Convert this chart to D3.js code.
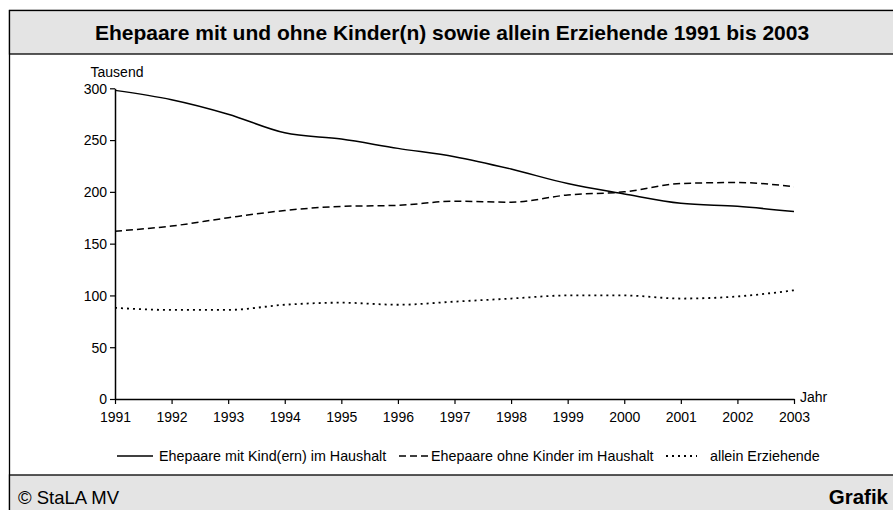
<!DOCTYPE html>
<html>
<head>
<meta charset="utf-8">
<script src="https://cdn.jsdelivr.net/npm/d3@7"></script>
<style>
  body { margin: 0; background: #fff; }
  svg { display: block; font-family: "Liberation Sans", Arial, sans-serif; }
</style>
</head>
<body>
<svg id="chart"></svg>
<script>
const years = [1991, 1992, 1993, 1994, 1995, 1996, 1997, 1998, 1999, 2000, 2001, 2002, 2003]
const mitKind = [298, 289, 275, 257, 251, 242, 234, 222, 208, 198, 189, 186, 181]
const ohneKind = [162, 167, 175, 182, 186, 187, 191, 190, 197, 200, 208, 209, 205]
const alleinErz = [88, 86, 86, 91, 93, 91, 94, 97, 100, 100, 97, 99, 105]
const yTicks = [0, 50, 100, 150, 200, 250, 300]
const seriesNames = [
  "Ehepaare mit Kind(ern) im Haushalt",
  "Ehepaare ohne Kinder im Haushalt",
  "allein Erziehende",
]

const W = 893
const H = 510
const svg = d3.select("#chart").attr("width", W).attr("height", H)

// frame, title band and footer band
svg.append("rect")
  .attr("x", 9.5).attr("y", 10.5)
  .attr("width", W).attr("height", H)
  .attr("fill", "#fff").attr("stroke", "#000").attr("stroke-width", 1.3)

svg.append("rect")
  .attr("x", 9.5).attr("y", 10.5)
  .attr("width", W).attr("height", 43.5)
  .attr("fill", "#e4e4e4").attr("stroke", "#000").attr("stroke-width", 1.3)

svg.append("rect")
  .attr("x", 9.5).attr("y", 475)
  .attr("width", W).attr("height", 40)
  .attr("fill", "#e4e4e4").attr("stroke", "#000").attr("stroke-width", 1.3)

svg.append("text")
  .attr("x", 452).attr("y", 39.5)
  .attr("text-anchor", "middle")
  .attr("font-size", 21).attr("font-weight", "bold")
  .text("Ehepaare mit und ohne Kinder(n) sowie allein Erziehende 1991 bis 2003")

svg.append("text")
  .attr("x", 18).attr("y", 503.5)
  .attr("font-size", 18.5)
  .text("© StaLA MV")

svg.append("text")
  .attr("x", 888).attr("y", 503.5)
  .attr("text-anchor", "end")
  .attr("font-size", 20.5).attr("font-weight", "bold")
  .text("Grafik")

/*
  Scales and axes
*/
const x = d3.scaleLinear().domain([1991, 2003]).range([115, 794])
const y = d3.scaleLinear().domain([0, 300]).range([399, 88.3])

const xAxis = svg.append("g")
  .attr("transform", "translate(0," + y(0) + ")")
  .call(d3.axisBottom(x).tickValues(years).tickFormat(d3.format("d")).tickSize(5).tickSizeOuter(0))
xAxis.selectAll("text").attr("font-size", 14).attr("dy", "1.1em").attr("fill", "#000")

const yAxis = svg.append("g")
  .attr("transform", "translate(" + x(1991) + ",0)")
  .call(d3.axisLeft(y).tickValues(yTicks).tickSize(5).tickSizeOuter(0))
yAxis.selectAll("text").attr("font-size", 14).attr("dy", "0.35em").attr("fill", "#000")

svg.selectAll(".domain").attr("stroke", "#000").attr("stroke-width", 1.5)
svg.selectAll(".tick line").attr("stroke", "#000").attr("stroke-width", 1.2)
svg.selectAll(".tick text").attr("font-family", "Liberation Sans, Arial, sans-serif")

svg.append("text")
  .attr("x", 117).attr("y", 77)
  .attr("text-anchor", "middle")
  .attr("font-size", 14)
  .text("Tausend")

svg.append("text")
  .attr("x", 800).attr("y", 402)
  .attr("font-size", 14)
  .text("Jahr")

/*
  Lines
*/
const styles = [
  { dash: null, width: 1.5 },
  { dash: "7,4", width: 1.5 },
  { dash: "2,4", width: 1.8 },
]
const allSeries = [mitKind, ohneKind, alleinErz]

const line = d3.line()
  .x((d, i) => x(years[i]))
  .y((d) => y(d))
  .curve(d3.curveMonotoneX)

svg.append("g")
  .selectAll("path")
  .data(allSeries)
  .enter()
  .append("path")
  .attr("d", line)
  .attr("fill", "none")
  .attr("stroke", "#000")
  .attr("stroke-width", (d, i) => styles[i].width)
  .attr("stroke-dasharray", (d, i) => styles[i].dash)

/*
  Legend
*/
const legendItems = [
  { x1: 117, x2: 153, tx: 159 },
  { x1: 399, x2: 428, tx: 431 },
  { x1: 666, x2: 697, tx: 710 },
]
const legend = svg.append("g").attr("transform", "translate(0,456)")
legendItems.forEach((item, i) => {
  legend.append("line")
    .attr("x1", item.x1).attr("x2", item.x2)
    .attr("y1", 0).attr("y2", 0)
    .attr("stroke", "#000")
    .attr("stroke-width", styles[i].width)
    .attr("stroke-dasharray", styles[i].dash)
  legend.append("text")
    .attr("x", item.tx).attr("y", 5)
    .attr("font-size", 14.3)
    .text(seriesNames[i])
})
</script>
</body>
</html>
